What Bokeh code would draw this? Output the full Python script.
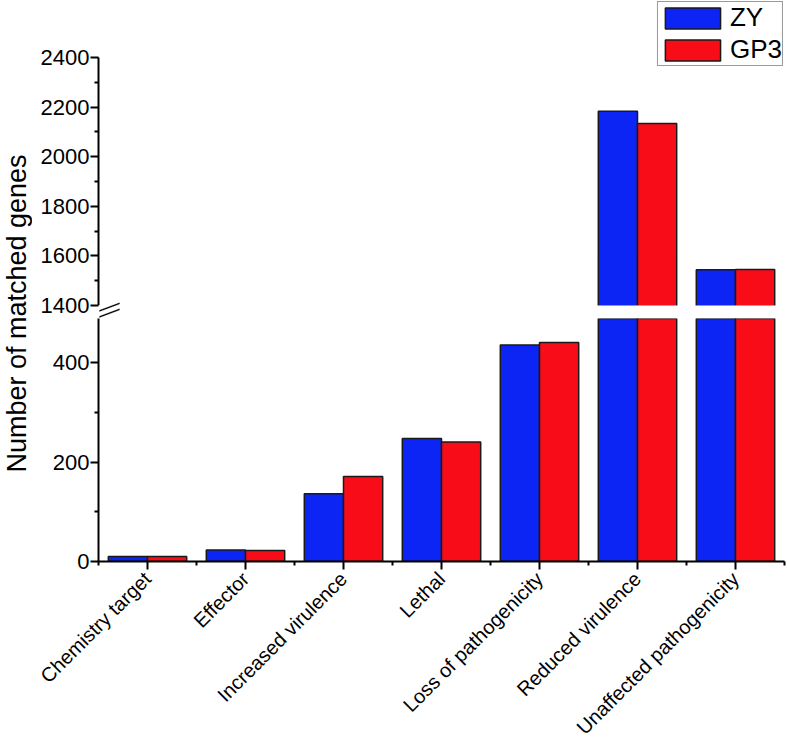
import numpy as np
from bokeh.plotting import figure
from bokeh.models import (Range1d, FixedTicker, ColumnDataSource, Legend,
                          LegendItem, Label, BoxAnnotation, PolyAnnotation)
from bokeh.layouts import column, row
from bokeh.transform import dodge
from bokeh.embed import file_html
from bokeh.resources import INLINE

# ---- data ----
categories = ["Chemistry target", "Effector", "Increased virulence", "Lethal",
              "Loss of pathogenicity", "Reduced virulence",
              "Unaffected pathogenicity"]
zy = [10, 23, 136, 247, 435, 2183, 1544]
gp3 = [10, 22, 171, 240, 440, 2134, 1545]
series_names = ["ZY", "GP3"]
lower_ticks = [0, 200, 400]
lower_minor = [100, 300]
upper_ticks = [1400, 1600, 1800, 2000, 2200, 2400]
upper_minor = [1500, 1700, 1900, 2100, 2300]
y_title = "Number of matched genes"

FONT = "Liberation Sans"
BLUE = "#0c24f4"
RED = "#f80c18"
EDGE = "#1a1a1a"

# ---- layout constants (pixels) ----
TITLE_W = 32
LEFT = 66
FRAME_W = 686
RIGHT = 4
UP_PX = 0.248     # px per unit, upper segment
LO_PX = 0.4975    # px per unit, lower segment
UP_FRAME_H = 318  # upper frame: page y 0..318 (1400 sits at y=305)
GAP = 13
LO_FRAME_H = 243  # lower frame: page y 318..561
BOTTOM = 180

n = len(categories)
centers = np.arange(n) + 0.5
src = ColumnDataSource(dict(x=centers, zy=zy, gp3=gp3))


def style_axis(ax, ticks, minor, size="22px"):
    ax.ticker = FixedTicker(ticks=ticks, minor_ticks=minor)
    ax.axis_line_width = 2
    ax.axis_line_color = "black"
    ax.major_tick_line_width = 2
    ax.minor_tick_line_width = 2
    ax.major_tick_line_color = "black"
    ax.minor_tick_line_color = "black"
    ax.major_tick_out = 8
    ax.major_tick_in = 0
    ax.minor_tick_out = 4
    ax.minor_tick_in = 0
    ax.major_label_text_font = FONT
    ax.major_label_text_font_size = size
    ax.major_label_text_color = "black"
    ax.major_label_standoff = 1


def make_fig(yr, fh, top, bottom, with_xaxis):
    p = figure(frame_width=FRAME_W, frame_height=fh,
               x_range=Range1d(0, n), y_range=yr,
               output_backend="svg", toolbar_location=None,
               min_border_left=LEFT, min_border_right=RIGHT,
               min_border_top=top, min_border_bottom=bottom,
               x_axis_location="below" if with_xaxis else None)
    p.outline_line_color = None
    p.grid.visible = False
    p.background_fill_color = "white"
    p.border_fill_color = "white"
    r1 = p.vbar(x=dodge("x", -0.2), top="zy", bottom=0, width=0.4, source=src,
                fill_color=BLUE, line_color=EDGE, line_width=1.5)
    r2 = p.vbar(x=dodge("x", 0.2), top="gp3", bottom=0, width=0.4, source=src,
                fill_color=RED, line_color=EDGE, line_width=1.5)
    return p, r1, r2


# upper segment (1400-2400); extra room above for the legend, below for the break gap
u0 = upper_ticks[0] - GAP / UP_PX
u1v = upper_ticks[0] + (UP_FRAME_H - GAP) / UP_PX
p_up, ub1, ub2 = make_fig(Range1d(u0, u1v), UP_FRAME_H, 0, 0, False)
style_axis(p_up.yaxis[0], upper_ticks, upper_minor)
p_up.yaxis[0].bounds = (upper_ticks[0], upper_ticks[-1])

# white break band between the two segments
p_up.add_layout(BoxAnnotation(top=upper_ticks[0], fill_color="white",
                              fill_alpha=1, line_color=None))
# break mark: two slanted strokes next to the axis (screen units)
for y0 in (7.0, 1.0):
    p_up.add_layout(PolyAnnotation(xs=[1, 21, 21, 1], ys=[y0, y0 + 7.5, y0 + 8.7, y0 + 1.2],
                                   xs_units="screen", ys_units="screen",
                                   fill_color="black", fill_alpha=1,
                                   line_color="black", line_width=0.8))

legend = Legend(items=[LegendItem(label=series_names[0], renderers=[ub1]),
                       LegendItem(label=series_names[1], renderers=[ub2])],
                location="top_right", orientation="vertical",
                glyph_width=69, glyph_height=26,
                label_text_font=FONT, label_text_font_size="26px",
                label_text_color="black", label_standoff=3,
                padding=0, spacing=1, margin=1,
                border_line_color="#333333", border_line_width=1,
                background_fill_color="white", background_fill_alpha=1)
p_up.add_layout(legend)

# lower segment (0-~490)
p_lo, lb1, lb2 = make_fig(Range1d(0, LO_FRAME_H / LO_PX), LO_FRAME_H, 0, BOTTOM, True)
style_axis(p_lo.yaxis[0], lower_ticks, lower_minor)
xax = p_lo.xaxis[0]
style_axis(xax, list(centers), list(range(n + 1)), size="20px")
xax.major_label_overrides = {float(c): name for c, name in zip(centers, categories)}
xax.major_label_orientation = np.pi / 4
xax.major_label_standoff = 6

total_h = UP_FRAME_H + LO_FRAME_H + BOTTOM

# narrow figure holding the y axis title, centered on the break
p_t = figure(width=TITLE_W, height=total_h, x_range=Range1d(0, TITLE_W),
             y_range=Range1d(0, total_h), output_backend="svg",
             toolbar_location=None, min_border=0,
             x_axis_location=None, y_axis_location=None)
p_t.outline_line_color = None
p_t.grid.visible = False
p_t.add_layout(Label(x=16, y=total_h - 313, x_units="screen", y_units="screen",
                     text=y_title, angle=np.pi / 2, text_align="center",
                     text_baseline="middle", text_font=FONT,
                     text_font_size="27px", text_color="black"))

layout = row(p_t, column(p_up, p_lo, spacing=0), spacing=0)
open("out.html", "w").write(file_html(layout, INLINE))
